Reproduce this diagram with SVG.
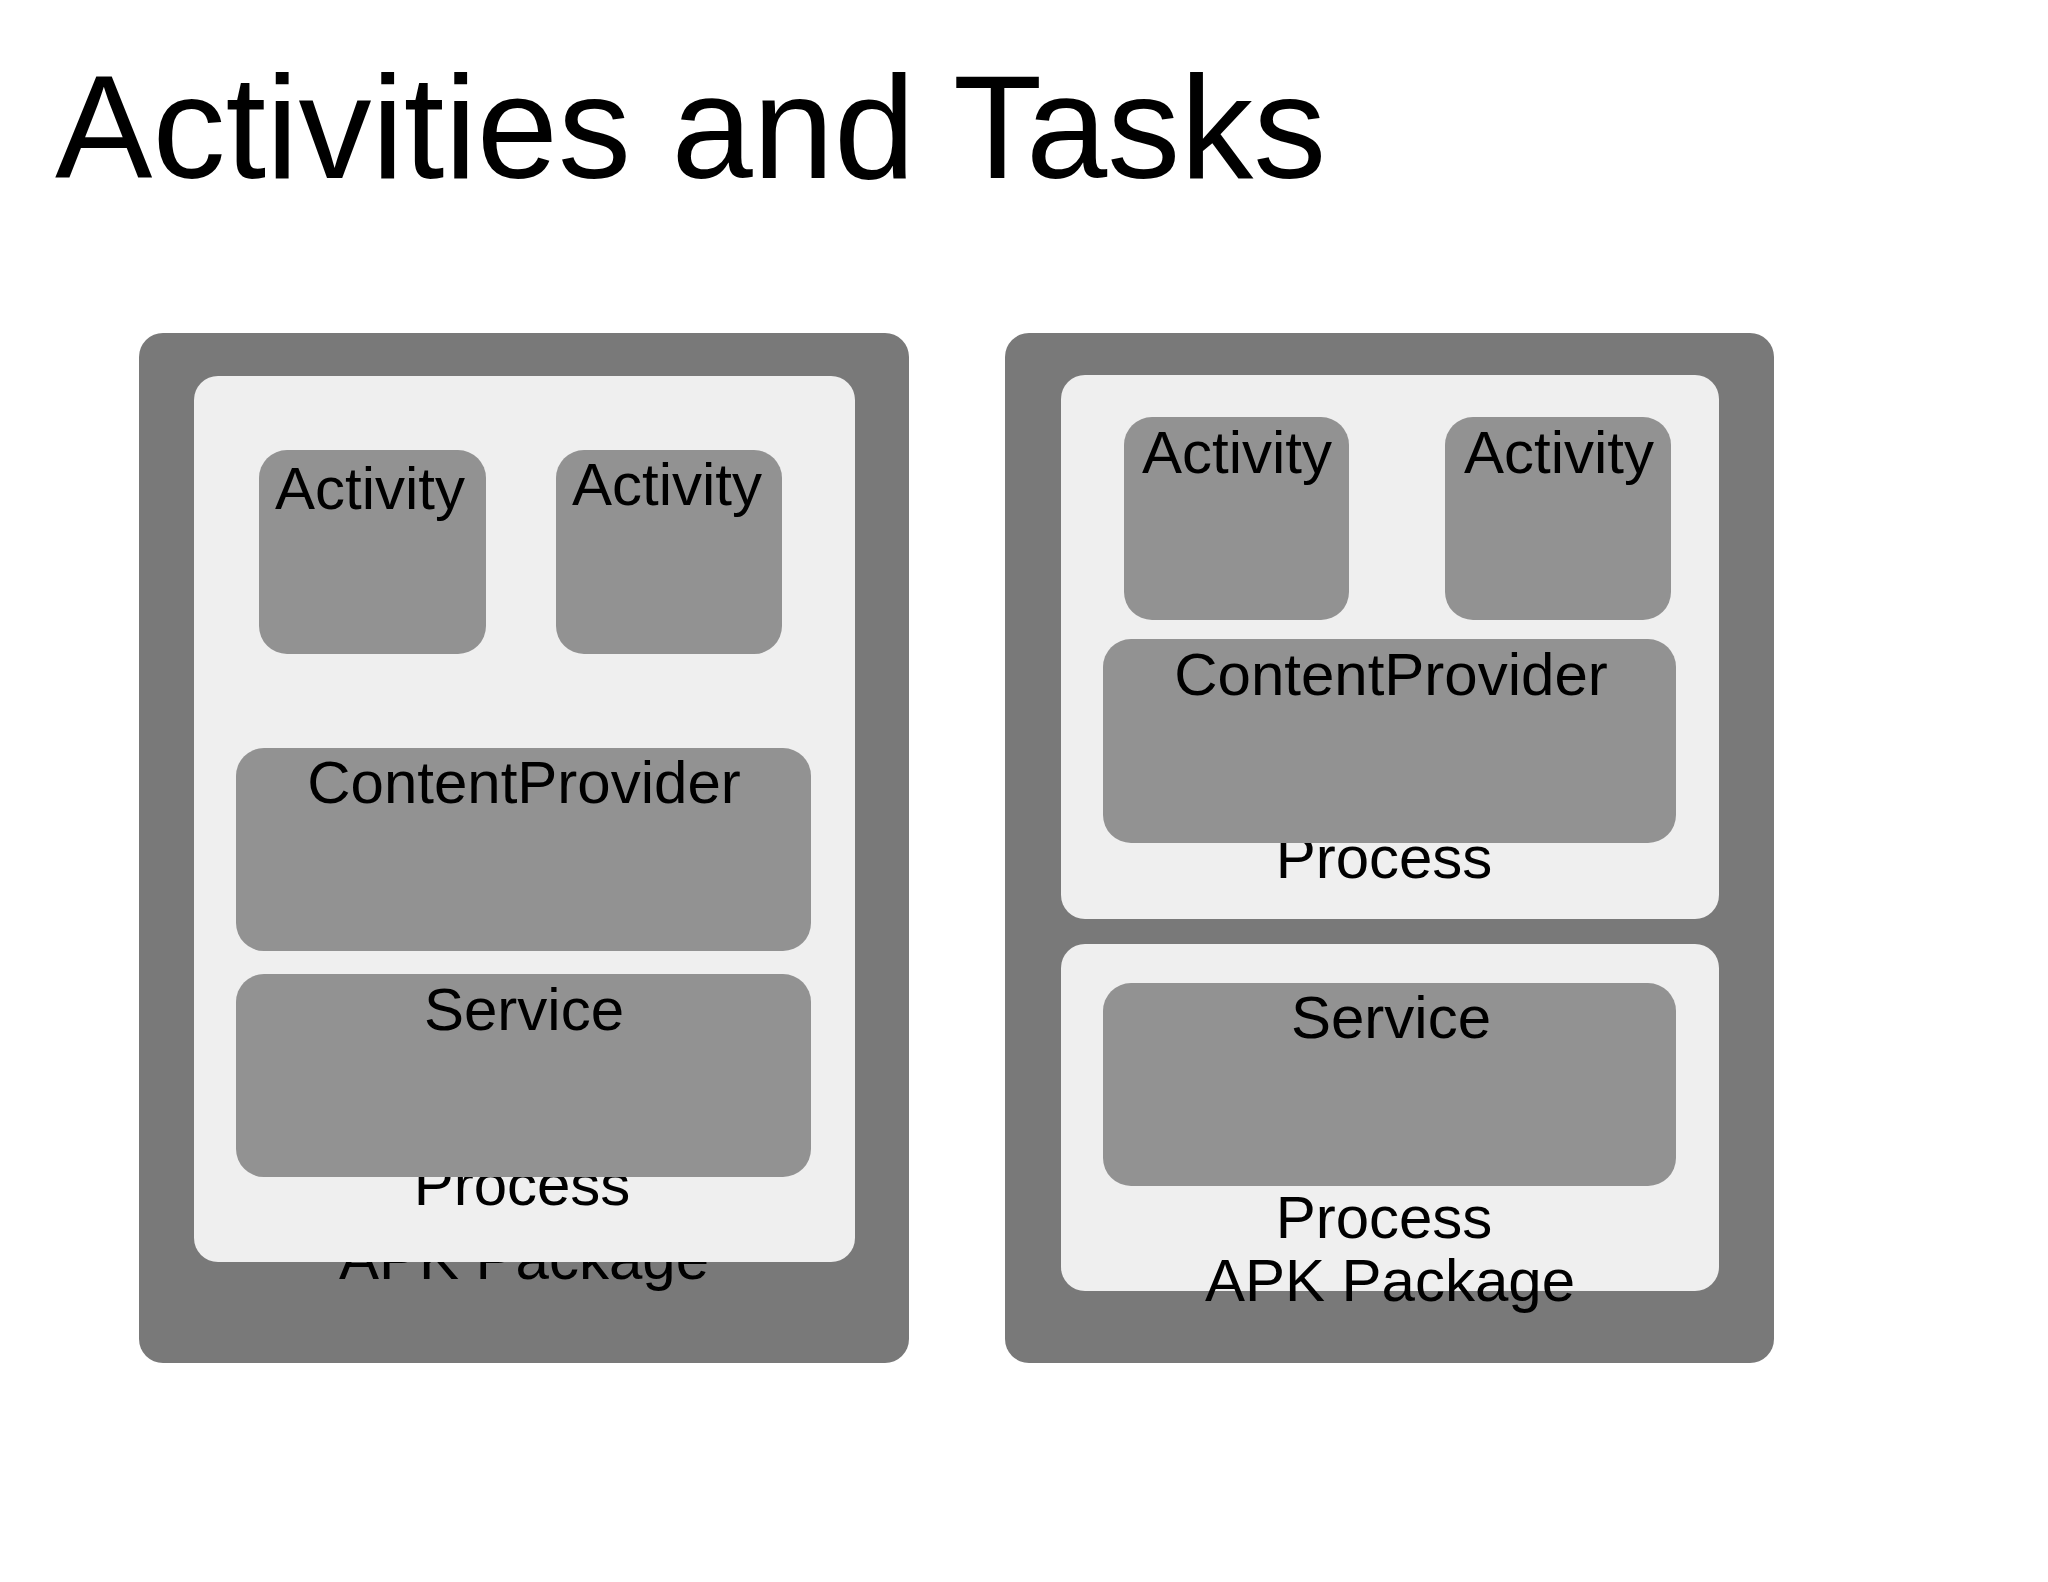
<svg xmlns="http://www.w3.org/2000/svg" width="2048" height="1582" viewBox="0 0 2048 1582">
<style>
text{font-family:"Liberation Sans",Arial,sans-serif;fill:#000;text-anchor:middle}
.o{fill:#797979}.i{fill:#efefef}.b{fill:#929292}
.t{font-size:60px}
</style>
<rect width="2048" height="1582" fill="#fff"/>
<text x="55" y="178" style="font-size:146px;text-anchor:start">Activities and Tasks</text>
<g id="apk1">
<rect class="o" x="139" y="333" width="770" height="1030" rx="24"/>
<text class="t" x="524" y="1279">APK Package</text>
</g>
<g id="proc1">
<rect class="i" x="194" y="376" width="661" height="886" rx="24"/>
<text class="t" x="522" y="1205">Process</text>
</g>
<g id="act1"><rect class="b" x="259" y="450" width="227" height="204" rx="28"/><text class="t" x="370" y="509">Activity</text></g>
<g id="act2"><rect class="b" x="556" y="450" width="226" height="204" rx="28"/><text class="t" x="667" y="505">Activity</text></g>
<g id="cp1"><rect class="b" x="236" y="748" width="575" height="203" rx="28"/><text class="t" x="524" y="803">ContentProvider</text></g>
<g id="svc1"><rect class="b" x="236" y="974" width="575" height="203" rx="28"/><text class="t" x="524" y="1030">Service</text></g>

<g id="apk2"><rect class="o" x="1005" y="333" width="769" height="1030" rx="24"/></g>
<g id="proc2">
<rect class="i" x="1061" y="375" width="658" height="544" rx="24"/>
<text class="t" x="1384" y="878">Process</text>
</g>
<g id="act3"><rect class="b" x="1124" y="417" width="225" height="203" rx="28"/><text class="t" x="1237" y="473">Activity</text></g>
<g id="act4"><rect class="b" x="1445" y="417" width="226" height="203" rx="28"/><text class="t" x="1559" y="473">Activity</text></g>
<g id="cp2"><rect class="b" x="1103" y="639" width="573" height="204" rx="28"/><text class="t" x="1391" y="695">ContentProvider</text></g>
<g id="proc3">
<rect class="i" x="1061" y="944" width="658" height="347" rx="24"/>
<text class="t" x="1384" y="1238">Process</text>
</g>
<g id="svc2"><rect class="b" x="1103" y="983" width="573" height="203" rx="28"/><text class="t" x="1391" y="1038">Service</text></g>
<text class="t" x="1390" y="1301">APK Package</text>
</svg>
